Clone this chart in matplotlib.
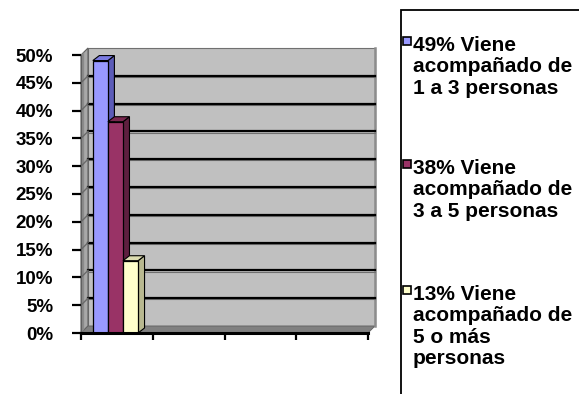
import matplotlib
matplotlib.use("Agg")
import matplotlib.pyplot as plt
from matplotlib.patches import Polygon, Rectangle

# datos
series_labels = [
    "49% Viene\nacompañado de\n1 a 3 personas",
    "38% Viene\nacompañado de\n3 a 5 personas",
    "13% Viene\nacompañado de\n5 o más\npersonas",
]
values = [0.49, 0.38, 0.13]
front_colors = ["#9999FF", "#993366", "#FFFFCC"]
side_colors = ["#5c5cb8", "#5e1f3f", "#b8b890"]
top_colors = ["#7a7ae0", "#7a2850", "#dcdcb0"]
y_ticks = [0, 0.05, 0.10, 0.15, 0.20, 0.25, 0.30, 0.35, 0.40, 0.45, 0.50]
y_tick_labels = ["0%", "5%", "10%", "15%", "20%", "25%", "30%", "35%", "40%", "45%", "50%"]
n_categories = 4

W, H = 579, 394
fig = plt.figure(figsize=(W / 100, H / 100), dpi=100)

# front plane of the 3d box, in pixels
left, right, top, bottom = 81, 368, 55, 333
ax = fig.add_axes([left / W, (H - bottom) / H, (right - left) / W, (bottom - top) / H])
ax.set_xlim(0, n_categories)
ax.set_ylim(0, 0.5)
ax.set_facecolor("none")

px_x = (right - left) / n_categories
px_y = (bottom - top) / 0.5
DX, DY = 7 / px_x, 7 / px_y        # depth of the walls
BDX, BDY = 6.5 / px_x, 5 / px_y    # depth of the bars

# back wall
ax.add_patch(Rectangle((DX, DY), n_categories, 0.5, facecolor="#C0C0C0",
                       edgecolor="#707070", lw=0.8, zorder=0, clip_on=False))
ax.plot([n_categories + DX] * 2, [DY, 0.5 + DY], color="#8c8c8c", lw=1.8,
        zorder=0.5, clip_on=False)
# side wall (two tones for the shading)
ax.add_patch(Polygon([(0, 0), (DX, DY), (DX, 0.5 + DY), (0, 0.5)],
                     facecolor="#a8a8a8", edgecolor="#606060", lw=0.8,
                     zorder=0.4, clip_on=False))
ax.add_patch(Polygon([(0, 0), (DX * 0.45, DY * 0.45), (DX * 0.45, 0.5 + DY * 0.45), (0, 0.5)],
                     facecolor="#8a8a8a", edgecolor="none",
                     zorder=0.45, clip_on=False))
# floor
ax.add_patch(Polygon([(0, 0), (n_categories, 0), (n_categories + DX, DY), (DX, DY)],
                     facecolor="#808080", edgecolor="#606060", lw=0.6,
                     zorder=0.4, clip_on=False))

# gridlines
for yv in y_ticks[1:-1]:
    ax.plot([DX, n_categories + DX], [yv + DY - 1.2 / px_y] * 2, color="#707070",
            lw=0.8, zorder=0.6, clip_on=False)
    ax.plot([DX, n_categories + DX], [yv + DY] * 2, color="black", lw=1.6,
            zorder=0.7, clip_on=False)
    ax.plot([0, DX], [yv, yv + DY], color="#6a6a6a", lw=1.0, zorder=0.7,
            clip_on=False)

# bars
bar_w = 0.21
x_start = 0.48 - 1.5 * bar_w
for i, v in enumerate(values):
    x0 = x_start + i * bar_w
    x1 = x0 + bar_w
    ax.add_patch(Polygon([(x1, 0), (x1 + BDX, BDY), (x1 + BDX, v + BDY), (x1, v)],
                         facecolor=side_colors[i], edgecolor="black", lw=0.8,
                         zorder=3 + i, clip_on=False))
    ax.add_patch(Polygon([(x0, v), (x1, v), (x1 + BDX, v + BDY), (x0 + BDX, v + BDY)],
                         facecolor=top_colors[i], edgecolor="black", lw=0.8,
                         zorder=3 + i, clip_on=False))
    ax.bar(x0, v, width=bar_w, align="edge", color=front_colors[i],
           edgecolor="black", lw=0.9, zorder=3 + i)

# axes
for s in ["top", "right"]:
    ax.spines[s].set_visible(False)
ax.spines["left"].set_color("#606060")
ax.spines["left"].set_linewidth(0.8)
ax.spines["bottom"].set_color("black")
ax.spines["bottom"].set_linewidth(2.2)
ax.spines["bottom"].set_zorder(10)

ax.set_yticks(y_ticks)
ax.set_yticklabels(y_tick_labels, fontfamily="Liberation Sans",
                   fontweight="bold", fontsize=13.5)
ax.set_xticks(range(n_categories + 1))
ax.set_xticklabels([])
ax.tick_params(axis="y", direction="out", length=6.5, width=1.6, pad=13.5,
               color="black")
ax.tick_params(axis="x", direction="out", length=5, width=1.6, color="black")

# legend drawn by hand
fig.patches.append(Rectangle((401 / W, -0.1), 1, (H - 10) / H + 0.1,
                             transform=fig.transFigure, fill=False,
                             edgecolor="black", lw=1.3))
entry_tops = [36, 159, 285]
for i, lab in enumerate(series_labels):
    y_top = entry_tops[i]
    fig.patches.append(Rectangle((403 / W, (H - y_top - 9) / H), 8 / W, 8 / H,
                                 transform=fig.transFigure,
                                 facecolor=front_colors[i], edgecolor="black",
                                 lw=1.2))
    fig.text(413 / W, (H - y_top) / H, lab, ha="left", va="top",
             fontfamily="Liberation Sans", fontweight="bold", fontsize=15,
             linespacing=1.16)

fig.savefig("out.png", dpi=100)
